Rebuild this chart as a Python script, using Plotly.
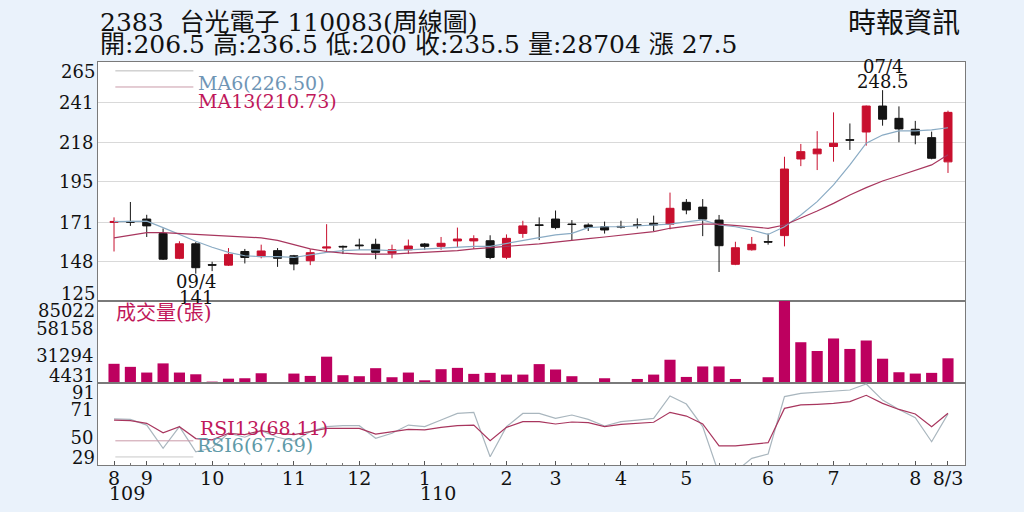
import plotly.graph_objects as go
from plotly.subplots import make_subplots

# weekly candles, index 0 = first week of Aug (109), last = 8/3 (110)
weeks = list(range(52))

opens = [171, 171.6, 173, 164.5, 150, 158.5, 146.3, 146, 154, 151,
         154.5, 151.5, 148.6, 156, 157, 157.8, 158.2, 153, 155, 158.4,
         157, 160.2, 160.2, 160.3, 150.6, 164.6, 169.6, 173, 170.1, 169.5,
         168.5, 168.7, 169.6, 170.5, 170, 182.8, 180, 172.4, 146.5, 155,
         159.8, 163.3, 208.2, 211.2, 215.5, 219.5, 224, 239.2, 232, 225.6,
         220.7, 206.5]
highs = [174, 183, 175.5, 167.5, 160, 159.5, 148, 156, 155.5, 158,
         156, 152, 155.3, 170, 157.5, 161.5, 161.5, 158, 161, 159,
         162.5, 168, 163.5, 163.5, 164, 172, 174, 178, 172.4, 170.5,
         171.5, 172, 173.4, 175, 188.5, 184.7, 184.7, 175.4, 159.7, 162.5,
         164.5, 209.5, 217, 224.5, 235.5, 229, 239.5, 248.5, 239, 230.5,
         224.2, 236.5]
lows = [154, 169, 162.5, 149, 149.5, 141, 142.5, 145.5, 147, 150,
        145, 143, 146, 154, 152.5, 155, 149.5, 150, 152.5, 155,
        155, 156.5, 155.5, 149.5, 149.5, 162, 160.7, 167, 160.7, 166,
        164.5, 167.5, 167.5, 166, 167, 175.8, 163, 142, 146, 154.5,
        158, 157, 204, 201.7, 206.6, 213.5, 216, 227.7, 218, 216.8,
        208, 200]
closes = [171.6, 171.2, 169, 149.5, 158.5, 144.5, 146, 152.3, 150.5, 154.3,
          150, 146.7, 153.3, 156.6, 156.7, 157.4, 153.5, 155, 157.2, 157,
          158.8, 161.3, 161.5, 150.5, 161.7, 169, 169.3, 168, 169.8, 168.2,
          166.6, 168.4, 169.3, 169.5, 179.3, 178.3, 173, 157.4, 156.2, 158.2,
          159.5, 202.3, 212.5, 214, 217.4, 219.2, 239.2, 231.5, 225.8, 222.2,
          208.6, 235.5]

ma6 = [171.5, 171.5, 171.8, 168, 164, 160, 156.5, 153.5, 151.5, 151,
       151, 150.5, 152, 153.5, 154.5, 155, 155, 154.5, 155, 155.5,
       156, 156.5, 157, 157, 158.8, 160.7, 162.1, 163.7, 164.6, 168,
       168.5, 168.5, 169, 169.5, 170, 171.4, 172.5, 169.5, 168.5, 166.6,
       164, 168.5, 175.4, 183.2, 193, 204.7, 217.4, 222.2, 224.6, 224.6,
       225.2, 226.5]
ma13 = [162, 163.5, 165, 165, 164.5, 164, 163.5, 163, 162.5, 162,
        160.5, 158, 155.5, 154, 153, 152.5, 152.5, 152.5, 153, 153.5,
        154, 154.5, 155.5, 156.2, 156.8, 157.5, 158.5, 159.5, 160.7, 161.5,
        162.5, 163.5, 164.5, 165.6, 167.6, 168.8, 170, 170, 169.1, 168.2,
        167.6, 169.5, 173.4, 177.7, 182.2, 187.1, 191.4, 195.3, 198.4, 201.7,
        204.7, 210.73]

volume = [23300, 20300, 14700, 23700, 14700, 13000, 5800, 8700, 9100, 14000,
          5100, 13700, 11400, 30300, 12100, 11100, 19000, 10100, 14700, 7100,
          18000, 19300, 13400, 14400, 12700, 12700, 23000, 17700, 11100, 5400,
          9100, 4500, 8400, 12700, 27300, 10400, 20700, 20700, 8400, 4450,
          10100, 85022, 44500, 35900, 48200, 37900, 46200, 28300, 15000, 13700,
          14400, 28704]

rsi6 = [63.8, 63.5, 59.2, 41.6, 58, 39, 42, 53, 50, 55,
        50, 47, 54.2, 58, 58.7, 58.7, 49.2, 53, 59.2, 58,
        63, 68, 68.8, 35.3, 58, 68, 68, 64.3, 66.8, 63.5,
        58.5, 61.8, 63, 64.3, 81.2, 75.1, 58, 22, 24, 34,
        37.3, 80.7, 83.2, 84, 84.4, 85.7, 90.2, 78.1, 71, 64.8,
        46.6, 67.69]
rsi13 = [63, 62.5, 60.5, 53.4, 58, 49, 48, 53, 52, 55,
         53, 52, 54.2, 56.7, 56.7, 56.7, 52.4, 54.2, 56, 55.5,
         57.5, 58.7, 59.2, 47.4, 57.5, 61.8, 61.8, 60, 61.5, 61,
         58, 59.7, 60.5, 61.3, 68.8, 66, 60, 43.4, 43.4, 44.9,
         45.9, 71.8, 74.4, 74.9, 75.6, 76.9, 81.7, 75.6, 71, 67.6,
         58, 68.11]

month_ticks = [0, 2, 6, 11, 15, 19, 24, 27, 31, 35, 40, 44, 49, 51]
month_labels = ["8", "9", "10", "11", "12", "1", "2", "3", "4", "5", "6", "7", "8", "8/3"]
year_labels = {0: "109", 19: "110"}

price_ticks = [148, 171, 195, 218, 241]
price_range = [125, 265]
vol_ticks = [31294, 58158]
vol_range = [4431, 85022]
rsi_ticks = [50, 71]
rsi_range = [29, 91]

RED = "#c8102e"
BLACK = "#141414"
MAG = "#bd005f"
FONT = "DejaVu Serif, Noto Sans CJK TC, serif"

fig = make_subplots(rows=3, cols=1, shared_xaxes=True, vertical_spacing=0,
                    row_heights=[239, 82, 82])

fig.add_trace(go.Candlestick(
    x=weeks, open=opens, high=highs, low=lows, close=closes,
    increasing=dict(line=dict(color=RED, width=1), fillcolor=RED),
    decreasing=dict(line=dict(color=BLACK, width=1), fillcolor=BLACK),
    whiskerwidth=0, hoverinfo="skip", showlegend=False), row=1, col=1)
fig.add_trace(go.Scatter(x=weeks, y=ma6, mode="lines",
                         line=dict(color="#8aabc4", width=1.2),
                         hoverinfo="skip", showlegend=False), row=1, col=1)
fig.add_trace(go.Scatter(x=weeks, y=ma13, mode="lines",
                         line=dict(color="#a8365e", width=1.2),
                         hoverinfo="skip", showlegend=False), row=1, col=1)

fig.add_trace(go.Bar(x=weeks, y=volume, marker=dict(color=MAG, line=dict(width=0)),
                     hoverinfo="skip", showlegend=False), row=2, col=1)

fig.add_trace(go.Scatter(x=weeks, y=rsi6, mode="lines",
                         line=dict(color="#a9b6be", width=1.2),
                         hoverinfo="skip", showlegend=False), row=3, col=1)
fig.add_trace(go.Scatter(x=weeks, y=rsi13, mode="lines",
                         line=dict(color="#a8365e", width=1.2),
                         hoverinfo="skip", showlegend=False), row=3, col=1)

axis_line = dict(showline=True, linecolor="#7a7a7a", linewidth=1, mirror=True, automargin=False)
for r in (1, 2, 3):
    fig.update_xaxes(range=[-0.98, 52.04], showgrid=False, zeroline=False,
                     rangeslider_visible=False, row=r, col=1, **axis_line)
fig.update_xaxes(tickmode="array", tickvals=month_ticks, ticktext=month_labels,
                 ticks="inside", ticklen=4, tickcolor="#555", ticklabelstandoff=-4,
                 minor=dict(ticks="inside", ticklen=2, tickcolor="#777", dtick=1, tick0=0),
                 tickfont=dict(family=FONT, size=19, color="#111"), row=3, col=1)

ylab = dict(family=FONT, size=18, color="#111")
fig.update_yaxes(range=price_range, tickvals=price_ticks, ticktext=[str(v) for v in price_ticks],
                 showgrid=True, gridcolor="#d9d9d9", gridwidth=1, zeroline=False, ticks="",
                 tickfont=ylab, row=1, col=1, **axis_line)
fig.update_yaxes(range=vol_range, tickvals=vol_ticks, ticktext=[str(v) for v in vol_ticks],
                 showgrid=False, zeroline=False, ticks="", tickfont=ylab, row=2, col=1, **axis_line)
fig.update_yaxes(range=rsi_range, tickvals=rsi_ticks, ticktext=[str(v) for v in rsi_ticks],
                 showgrid=False, zeroline=False, ticks="", tickfont=ylab, row=3, col=1, **axis_line)

ann = []
# axis end labels (kept inside each pane)
for yref, top, bottom in (("y", price_range[1], price_range[0]),
                          ("y2", vol_range[1], vol_range[0]),
                          ("y3", rsi_range[1], rsi_range[0])):
    ann.append(dict(xref="paper", x=0, xshift=-1, xanchor="right", yref=yref, y=top,
                    yanchor="top", yshift=3, text=str(top), showarrow=False, font=ylab))
    ann.append(dict(xref="paper", x=0, xshift=-1, xanchor="right", yref=yref, y=bottom,
                    yanchor="bottom", yshift=-5, text=str(bottom), showarrow=False, font=ylab))

for pos, txt in year_labels.items():
    ann.append(dict(xref="x3", x=pos + 0.8, yref="paper", y=-0.038, yanchor="top",
                    text=txt, showarrow=False, font=dict(family=FONT, size=19, color="#111")))

# low / high markers
lo = lows.index(min(lows))
hi = highs.index(max(highs))
mk = dict(family=FONT, size=18, color="#111")
ann.append(dict(x=lo, y=lows[lo], xref="x", yref="y", yanchor="top", yshift=5,
                text="09/4", showarrow=False, font=mk))
ann.append(dict(x=lo, y=lows[lo], xref="x", yref="y", yanchor="top", yshift=-11,
                text=f"{lows[lo]:g}", showarrow=False, font=mk))
ann.append(dict(x=hi, y=highs[hi], xref="x", yref="y", yanchor="bottom", yshift=-4,
                text=f"{highs[hi]:g}", showarrow=False, font=mk))
ann.append(dict(x=hi, y=highs[hi], xref="x", yref="y", yanchor="bottom", yshift=11,
                text="07/4", showarrow=False, font=mk))

# indicator captions
ann += [
    dict(xref="paper", x=0.113, yref="paper", y=0.980, xanchor="left", text=f"MA6({ma6[-1]:.2f})",
         showarrow=False, font=dict(family=FONT, size=19, color="#6f95b5")),
    dict(xref="paper", x=0.113, yref="paper", y=0.935, xanchor="left", text=f"MA13({ma13[-1]:.2f})",
         showarrow=False, font=dict(family=FONT, size=19, color="#c0185a")),
    dict(xref="paper", x=0.019, yref="paper", y=0.378, xanchor="left", text="成交量(張)",
         showarrow=False, font=dict(family=FONT, size=20, color="#c0185a")),
    dict(xref="paper", x=0.115, yref="paper", y=0.060, xanchor="left", text=f"RSI13({rsi13[-1]:.2f})",
         showarrow=False, font=dict(family=FONT, size=19, color="#c0185a")),
    dict(xref="paper", x=0.112, yref="paper", y=0.018, xanchor="left", text=f"RSI6({rsi6[-1]:.2f})",
         showarrow=False, font=dict(family=FONT, size=19, color="#5f9aa8")),
]

# header
ann += [
    dict(xref="paper", x=0, yref="paper", y=1.098, xanchor="left", yanchor="middle",
         text="2383\u00a0\u00a0台光電子 110083(周線圖)", showarrow=False,
         font=dict(family=FONT, size=25, color="#111")),
    dict(xref="paper", x=0, yref="paper", y=1.043, xanchor="left", yanchor="middle",
         text=f"開:{opens[-1]:g} 高:{highs[-1]:g} 低:{lows[-1]:g} 收:{closes[-1]:g} 量:{volume[-1]} 漲 27.5",
         showarrow=False, font=dict(family=FONT, size=25, color="#111")),
    dict(xref="paper", x=0.997, yref="paper", y=1.095, xanchor="right", yanchor="middle",
         text="時報資訊", showarrow=False, font=dict(family=FONT, size=28, color="#111")),
]

# caption sample lines
shapes = []
for y, col in ((0.978, "#b9b9b9"), (0.938, "#c99aa8"), (0.060, "#c99aa8"), (0.020, "#c8c8c8")):
    shapes.append(dict(type="line", xref="paper", yref="paper", x0=0.02, x1=0.11, y0=y, y1=y,
                       line=dict(color=col, width=1)))

fig.update_layout(
    width=1024, height=512,
    margin=dict(l=98, r=59, t=62, b=47),
    paper_bgcolor="#eaf2fb", plot_bgcolor="#ffffff",
    bargap=0.32, showlegend=False,
    annotations=ann, shapes=shapes,
    font=dict(family=FONT, color="#111"),
)

fig.write_html("out.html", config={"displayModeBar": False},
               post_script="document.body.style.margin='0px';")
